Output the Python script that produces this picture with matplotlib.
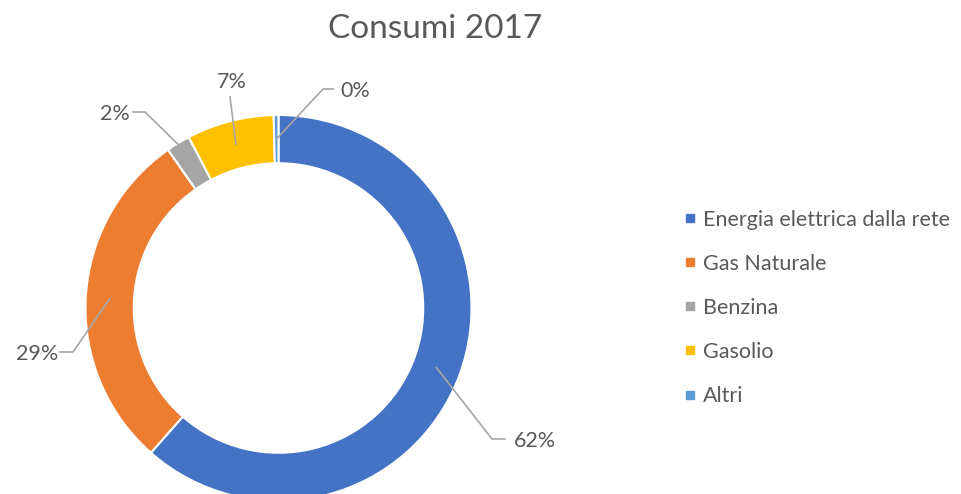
import numpy as np
import matplotlib
matplotlib.use('Agg')
import matplotlib.pyplot as plt
from matplotlib.lines import Line2D

plt.rcParams['font.family'] = ['Lato', 'DejaVu Sans']

# data
categorie = ['Energia elettrica dalla rete', 'Gas Naturale', 'Benzina', 'Gasolio', 'Altri']
valori = [61.5, 28.8, 2.0, 7.3, 0.4]
colori = ['#4472C4', '#ED7D31', '#A5A5A5', '#FFC000', '#5B9BD5']

W, H = 961, 494
cx, cy, R = 278.5, 308, 193.0

def px(x, y):
    # pixel -> data (centre of donut at 0,0, radius 1)
    return (x - cx) / R, (cy - y) / R

fig = plt.figure(figsize=(W / 100, H / 100), dpi=100)
ax = fig.add_axes([0, 0, 1, 1])

wedges, _ = ax.pie(valori, colors=colori, startangle=90, counterclock=False,
                   radius=1.0, wedgeprops=dict(width=0.25, edgecolor='white', linewidth=1.5))
ax.set_xlim(px(0, 0)[0], px(W, 0)[0])
ax.set_ylim(px(0, H)[1], px(0, 0)[1])
ax.axis('off')

# leader lines + labels: (radius of the anchor in ring, elbow, end, text pos, ha)
lab = [
    (0.875, (492, 439), (505, 439), (514, 441), 'left'),
    (0.875, (73, 352), (60, 352), (58, 354), 'right'),
    (0.98, (145, 112), (133, 112), (130, 114), 'right'),
    (0.875, None, (230, 97), (232, 82), 'center'),
    (0.875, (323, 89), (333, 89), (340, 91), 'left'),
]
for w, v, (r, elbow, end, tpos, ha) in zip(wedges, valori, lab):
    ang = np.deg2rad((w.theta1 + w.theta2) / 2)
    p0 = (r * np.cos(ang), r * np.sin(ang))
    pts = [p0] + ([px(*elbow)] if elbow else []) + [px(*end)]
    ax.plot([p[0] for p in pts], [p[1] for p in pts], color='#A6A6A6', lw=1.2, zorder=5)
    tx, ty = px(*tpos)
    ax.text(tx, ty, '%d%%' % round(v), ha=ha, va='center', fontsize=15.5, color='#595959')

tx, ty = px(435, 29)
ax.text(tx, ty, 'Consumi 2017', ha='center', va='center', fontsize=24, color='#595959')

handles = [Line2D([], [], marker='s', ls='None', markersize=6, color=c) for c in colori]
leg = ax.legend(handles, categorie, loc='upper left', bbox_to_anchor=(672 / W, 1 - 201 / H),
                frameon=False, fontsize=15.5, labelspacing=1.12, handletextpad=0.15,
                handlelength=0.9, borderaxespad=0)
for t in leg.get_texts():
    t.set_color('#595959')

plt.savefig('out.png', dpi=100)
